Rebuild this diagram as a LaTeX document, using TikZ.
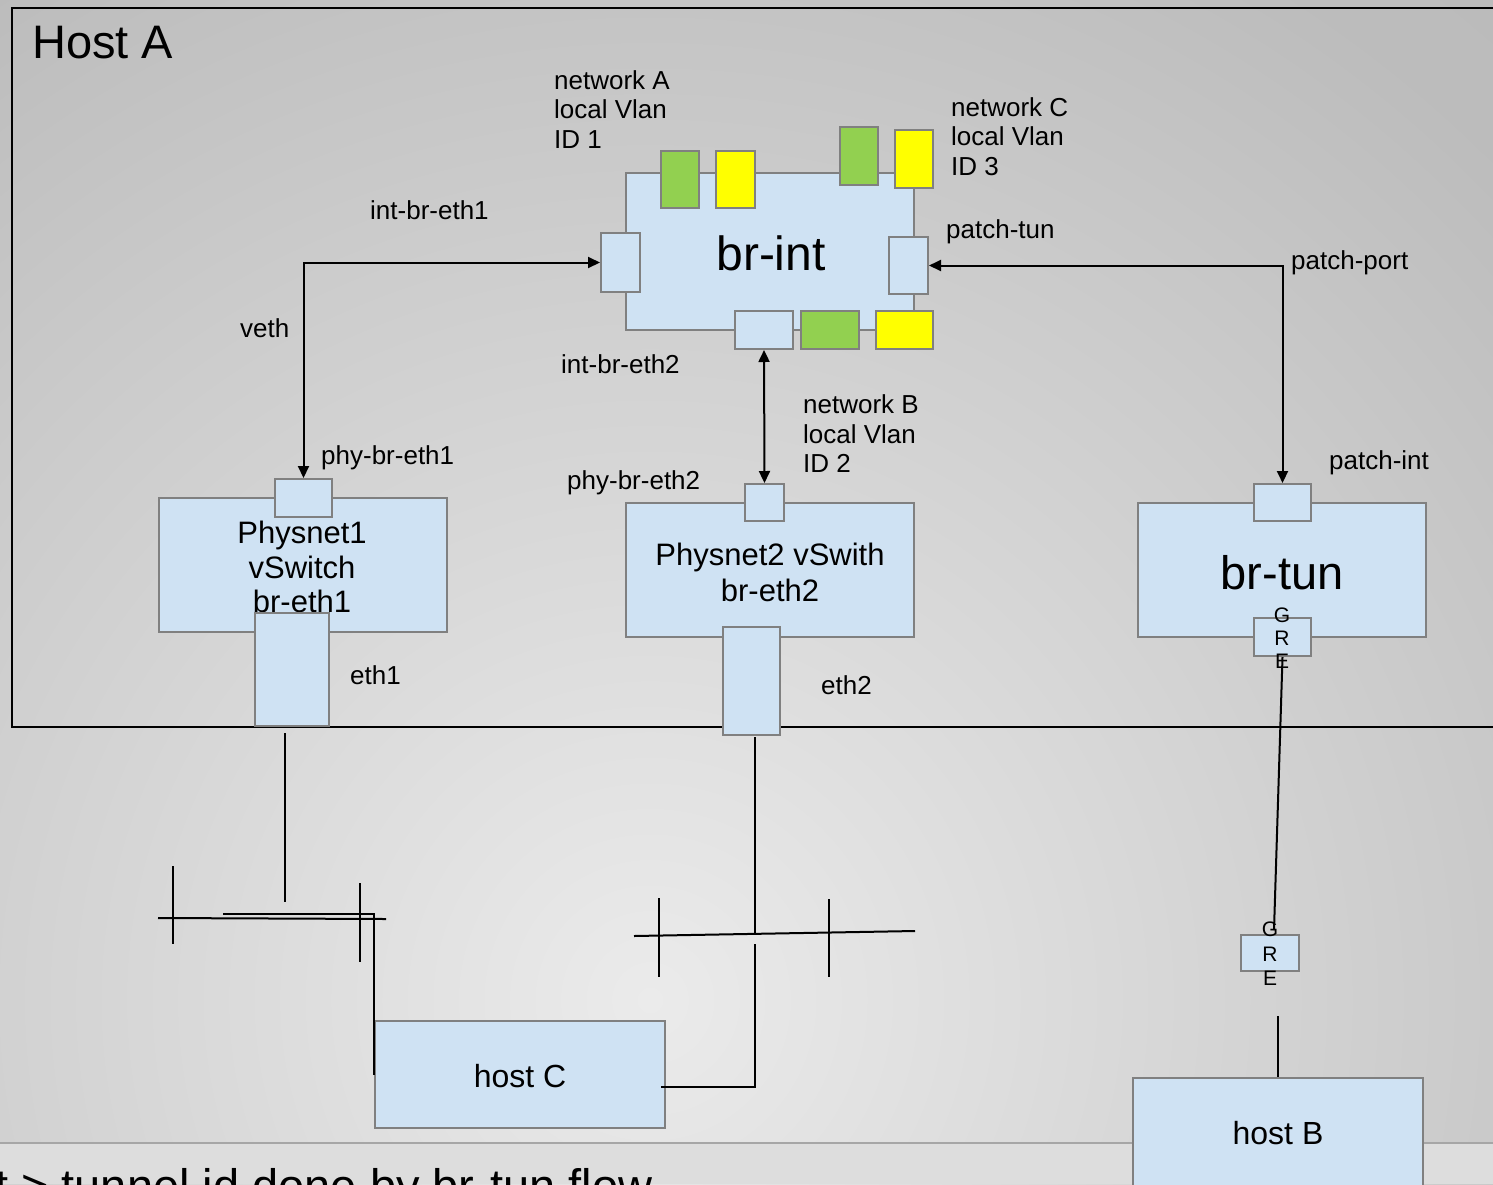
\documentclass[tikz,border=0pt]{standalone}
\usepackage{fontspec}
\setmainfont{Liberation Sans}
\usetikzlibrary{arrows.meta}
\definecolor{boxfill}{HTML}{CFE2F3}
\definecolor{boxline}{HTML}{808080}
\definecolor{grn}{HTML}{92D050}
\definecolor{yel}{HTML}{FFFF00}
\definecolor{bgin}{HTML}{EBEBEB}
\definecolor{bgmid}{HTML}{BCBCBC}
\definecolor{bgout}{HTML}{B4B4B4}
\definecolor{bandfill}{HTML}{DDDDDD}
\definecolor{bandline}{HTML}{A6A6A6}
\pgfdeclareradialshading{bgshade}{\pgfpoint{0bp}{0bp}}{color(0bp)=(bgin); color(25bp)=(bgmid); color(50bp)=(bgout)}
\newcommand\fsz[1]{\fontsize{#1}{#1}\selectfont}
\newcommand\rbox[6]{\node[#2, minimum width={#5-#3}, minimum height={#6-#4}] (#1) at ({(#3+#5)/2},{(#4+#6)/2}) {};}
\tikzset{
  box/.style={draw=boxline, fill=boxfill, line width=2pt, inner sep=0pt, rectangle},
  gport/.style={box, fill=grn},
  yport/.style={box, fill=yel},
  lbl/.style={inner sep=0pt, anchor=base west, font=\fsz{26}},
  ctext/.style={inner sep=0pt, anchor=base},
  wire/.style={line width=2pt, black},
  link/.style={wire, {Triangle[length=12pt,width=11pt]}-{Triangle[length=12pt,width=11pt]}},
}
\begin{document}
\begin{tikzpicture}[x=1pt,y=-1pt]
\useasboundingbox (0,0) rectangle (1493,1184);
\begin{scope}
\clip (0,0) rectangle (1493,1184);
% background
\fill[shading=bgshade] (-550,-200) rectangle (1850,2200);
\fill[bandfill] (0,1143) rectangle (1493,1184);
\draw[bandline, line width=1.5pt] (0,1143) -- (1493,1143);
\node[inner sep=0pt, anchor=base west, font=\fsz{47}] (note) at (-5,1202) {t > tunnel id done by br-tun flow};
% Host A frame
\draw[line width=2pt] (12,8) rectangle (1510,727);
\node[inner sep=0pt, anchor=base west, font=\fsz{47}] (thostA) at (32,58) {Host A};

% br-int
\rbox{brint}{box}{626}{173}{914}{330}
\node[ctext, font=\fsz{48}] (tbrint) at (771,270) {br-int};
\rbox{gA}{gport}{661}{151}{699}{208}
\rbox{yA}{yport}{716}{151}{755}{208}
\rbox{gC}{gport}{840}{127}{878}{185}
\rbox{yC}{yport}{895}{130}{933}{188}
\rbox{intL}{box}{601}{233}{640}{292}
\rbox{intR}{box}{889}{237}{928}{294}
\rbox{intB}{box}{735}{311}{793}{349}
\rbox{gB}{gport}{801}{311}{859}{349}
\rbox{yB}{yport}{876}{311}{933}{349}

% Physnet1
\rbox{phys1}{box}{159}{498}{447}{632}
\node[ctext, font=\fsz{31}] (tp1a) at (302,543) {Physnet1};
\node[ctext, font=\fsz{31}] (tp1b) at (302,578) {vSwitch};
\node[ctext, font=\fsz{31}] (tp1c) at (302,612) {br-eth1};
\rbox{p1top}{box}{275}{479}{332}{517}
\rbox{eth1}{box}{255}{613}{329}{726}

% Physnet2
\rbox{phys2}{box}{626}{503}{914}{637}
\node[ctext, font=\fsz{31}] (tp2a) at (770,565) {Physnet2 vSwith};
\node[ctext, font=\fsz{31}] (tp2b) at (770,601) {br-eth2};
\rbox{p2top}{box}{745}{484}{784}{521}
\rbox{eth2}{box}{723}{627}{780}{735}

% br-tun
\rbox{brtun}{box}{1138}{503}{1426}{637}
\node[ctext, font=\fsz{47}] (tbrtun) at (1282,589) {br-tun};
\rbox{tuntop}{box}{1254}{484}{1311}{521}
\rbox{gre1}{box}{1254}{618}{1311}{656}
\node[ctext, font=\fsz{21}] (g1a) at (1282,622) {G};
\node[ctext, font=\fsz{21}] (g1b) at (1282,645) {R};
\node[ctext, font=\fsz{21}] (g1c) at (1282,668) {E};

% remote GRE and hosts
\rbox{gre2}{box}{1241}{935}{1299}{971}
\node[ctext, font=\fsz{21}] (g2a) at (1270,936) {G};
\node[ctext, font=\fsz{21}] (g2b) at (1270,961) {R};
\node[ctext, font=\fsz{21}] (g2c) at (1270,985) {E};
\rbox{hostC}{box}{375}{1021}{665}{1128}
\node[ctext, font=\fsz{32}] (thostC) at (520,1087) {host C};
\rbox{hostB}{box}{1133}{1078}{1423}{1200}
\node[ctext, font=\fsz{32}] (thostB) at (1278,1144) {host B};

% labels
\node[lbl] (la1) at (554,89) {network A};
\node[lbl] (la2) at (554,118) {local Vlan};
\node[lbl] (la3) at (554,148) {ID 1};
\node[lbl] (lc1) at (951,116) {network C};
\node[lbl] (lc2) at (951,145) {local Vlan};
\node[lbl] (lc3) at (951,175) {ID 3};
\node[lbl] (lb1) at (803,413) {network B};
\node[lbl] (lb2) at (803,443) {local Vlan};
\node[lbl] (lb3) at (803,472) {ID 2};
\node[lbl] (lintbr1) at (370,219) {int-br-eth1};
\node[lbl] (lpatchtun) at (946,238) {patch-tun};
\node[lbl] (lpatchport) at (1291,269) {patch-port};
\node[lbl] (lveth) at (240,337) {veth};
\node[lbl] (lintbr2) at (561,373) {int-br-eth2};
\node[lbl] (lphy1) at (321,464) {phy-br-eth1};
\node[lbl] (lphy2) at (567,489) {phy-br-eth2};
\node[lbl] (lpatchint) at (1329,469) {patch-int};
\node[lbl] (leth1) at (350,684) {eth1};
\node[lbl] (leth2) at (821,694) {eth2};

% links
\draw[link] (intL.west) -| (p1top.north);
\draw[link] (intB.south) -- (p2top.north);
\draw[link] (intR.east) -| (tuntop.north);

% eth1 wiring
\coordinate (e1a) at (285,733);
\coordinate (e1b) at (285,902);
\draw[wire] (e1a) -- (e1b);
\coordinate (s1l) at (158,918);
\coordinate (s1r) at (386,919);
\draw[wire] (s1l) -- (s1r);
\coordinate (t1a) at (173,866); \coordinate (t1b) at (173,944);
\draw[wire] (t1a) -- (t1b);
\coordinate (t2a) at (360,883); \coordinate (t2b) at (360,962);
\draw[wire] (t2a) -- (t2b);
\coordinate (c1) at (223,914);
\draw[wire] (c1) -| (hostC.west);

% eth2 wiring
\coordinate (e2a) at (755,737);
\coordinate (e2b) at (755,935);
\draw[wire] (e2a) -- (e2b);
\coordinate (s2l) at (634,936);
\coordinate (s2r) at (915,931);
\draw[wire] (s2l) -- (s2r);
\coordinate (t3a) at (659,898); \coordinate (t3b) at (659,977);
\draw[wire] (t3a) -- (t3b);
\coordinate (t4a) at (829,899); \coordinate (t4b) at (829,977);
\draw[wire] (t4a) -- (t4b);
\coordinate (c2) at (755,944);
\coordinate (c2e) at (661,1087);
\draw[wire] (c2) |- (c2e);

% GRE tunnel
\coordinate (gend) at (1274,930);
\draw[wire] (gre1.south) -- (gend);
\coordinate (hb) at (1278,1016);
\draw[wire] (hb) -- (hostB.north);
\end{scope}
\end{tikzpicture}
\end{document}
